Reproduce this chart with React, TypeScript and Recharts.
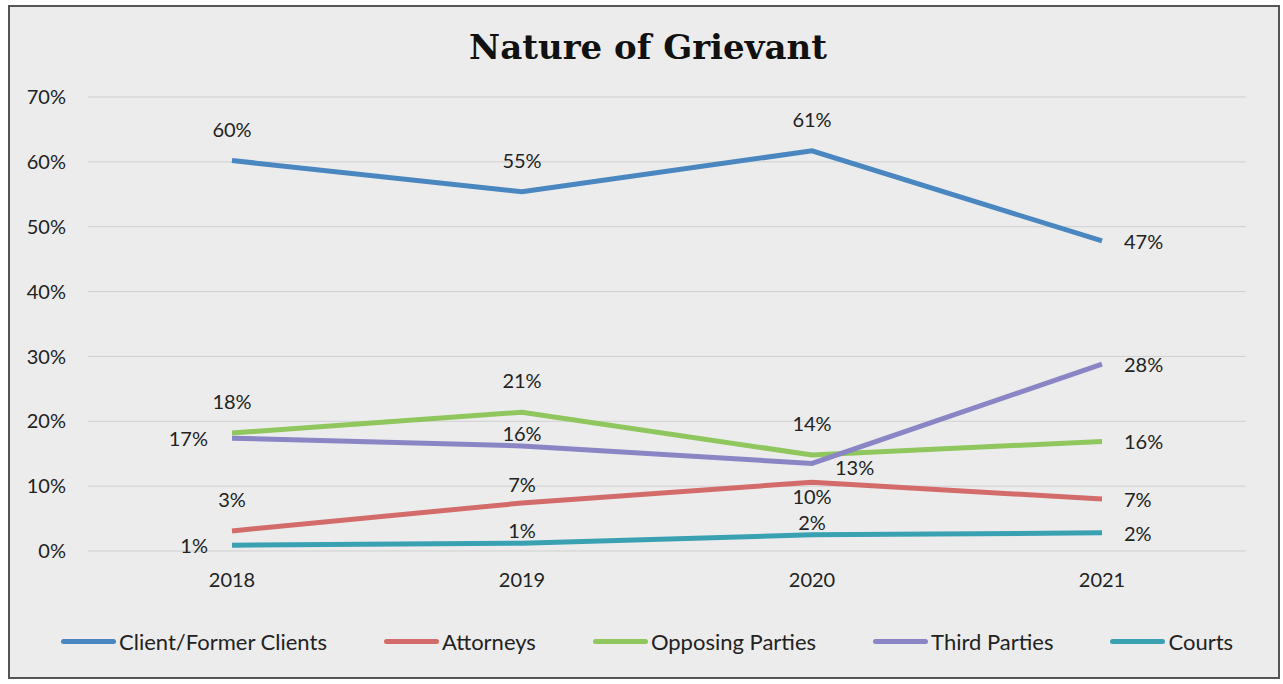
import React from 'react';
import { LineChart, Line, XAxis, YAxis, CartesianGrid, LabelList, Legend } from 'recharts';

const years = ['2018', '2019', '2020', '2021'];
const clientValues = [60.2, 55.4, 61.7, 47.8];
const attorneyValues = [3.1, 7.4, 10.6, 8.0];
const opposingValues = [18.2, 21.4, 14.8, 16.9];
const thirdValues = [17.4, 16.2, 13.5, 28.8];
const courtValues = [0.9, 1.2, 2.5, 2.8];

const clientLabels = ['60%', '55%', '61%', '47%'];
const attorneyLabels = ['3%', '7%', '10%', '7%'];
const opposingLabels = ['18%', '21%', '14%', '16%'];
const thirdLabels = ['17%', '16%', '13%', '28%'];
const courtLabels = ['1%', '1%', '2%', '2%'];

const yTicks = [0, 10, 20, 30, 40, 50, 60, 70];

const FONT = 'Lato, "Open Sans", sans-serif';

const series = [
  { key: 'client', name: 'Client/Former Clients', color: '#4a86c0', values: clientValues, labels: clientLabels, place: ['above', 'above', 'above', 'right'] },
  { key: 'attorneys', name: 'Attorneys', color: '#d46b6b', values: attorneyValues, labels: attorneyLabels, place: ['above', 'near2', 'below', 'right'] },
  { key: 'opposing', name: 'Opposing Parties', color: '#8fc65e', values: opposingValues, labels: opposingLabels, place: ['above', 'above', 'above', 'right'] },
  { key: 'third', name: 'Third Parties', color: '#8a86c6', values: thirdValues, labels: thirdLabels, place: ['left', 'near', 'rightLow', 'right'] },
  { key: 'courts', name: 'Courts', color: '#3aa1b3', values: courtValues, labels: courtLabels, place: ['left', 'near', 'near', 'right'] },
];

const data = years.map((year, i) => {
  const row: Record<string, string | number> = { year };
  series.forEach((s) => {
    row[s.key] = s.values[i];
    row[s.key + 'Label'] = s.labels[i];
  });
  return row;
});

const makeLabel = (place: string[]) => (props: any) => {
  const { x, y, value, index } = props;
  const p = place[index] || 'above';
  let tx = x;
  let ty = y;
  let anchor: 'middle' | 'start' | 'end' = 'middle';
  if (p === 'above') ty = y - 32;
  else if (p === 'near') ty = y - 13;
  else if (p === 'near2') ty = y - 19;
  else if (p === 'below') ty = y + 14;
  else if (p === 'left') { tx = x - 24; anchor = 'end'; }
  else if (p === 'right') { tx = x + 22; anchor = 'start'; }
  else if (p === 'rightLow') { tx = x + 23; ty = y + 4; anchor = 'start'; }
  return (
    <text x={tx} y={ty} textAnchor={anchor} dominantBaseline="central" fill="#222" fontSize={20} fontFamily={FONT}>
      {value}
    </text>
  );
};

const LegendContent = () => (
  <div style={{ display: 'flex', alignItems: 'center', paddingLeft: 51, gap: 57, height: 40 }}>
    {series.map((s) => (
      <div key={s.key} style={{ display: 'flex', alignItems: 'center' }}>
        <div style={{ width: 55, height: 5, borderRadius: 3, background: s.color, marginRight: 3 }} />
        <span style={{ fontFamily: FONT, fontSize: 22, color: '#222' }}>{s.name}</span>
      </div>
    ))}
  </div>
);

export default function App() {
  return (
    <div
      style={{
        position: 'absolute',
        left: 8,
        top: 5,
        width: 1268,
        height: 670,
        border: '2px solid #555',
        background: '#ececec',
      }}
    >
      <div
        style={{
          position: 'absolute',
          left: 0,
          top: 20,
          width: 1276,
          textAlign: 'center',
          fontFamily: '"DejaVu Serif", serif',
          fontWeight: 'bold',
          fontSize: 34,
          lineHeight: '40px',
          color: '#111',
        }}
      >
        Nature of Grievant
      </div>
      <LineChart width={1268} height={670} data={data} margin={{ top: 90, right: 32, left: 0, bottom: 16 }}>
        <CartesianGrid horizontal vertical={false} stroke="#cfcfcf" strokeWidth={1} />
        <XAxis
          dataKey="year"
          axisLine={false}
          tickLine={false}
          tickSize={0}
          tickMargin={22}
          height={70}
          padding={{ left: 144, right: 144 }}
          tick={{ fill: '#222', fontSize: 20, fontFamily: FONT }}
        />
        <YAxis
          domain={[0, 70]}
          ticks={yTicks}
          tickFormatter={(v: number) => `${v}%`}
          axisLine={false}
          tickLine={false}
          tickSize={0}
          tickMargin={22}
          width={78}
          tick={{ fill: '#222', fontSize: 20, fontFamily: FONT }}
        />
        <Legend verticalAlign="bottom" align="left" height={40} content={() => <LegendContent />} />
        {series.map((s) => (
          <Line
            key={s.key}
            type="linear"
            dataKey={s.key}
            name={s.name}
            stroke={s.color}
            strokeWidth={5}
            dot={false}
            activeDot={false}
            isAnimationActive={false}
          >
            <LabelList dataKey={s.key + 'Label'} content={makeLabel(s.place)} />
          </Line>
        ))}
      </LineChart>
    </div>
  );
}
